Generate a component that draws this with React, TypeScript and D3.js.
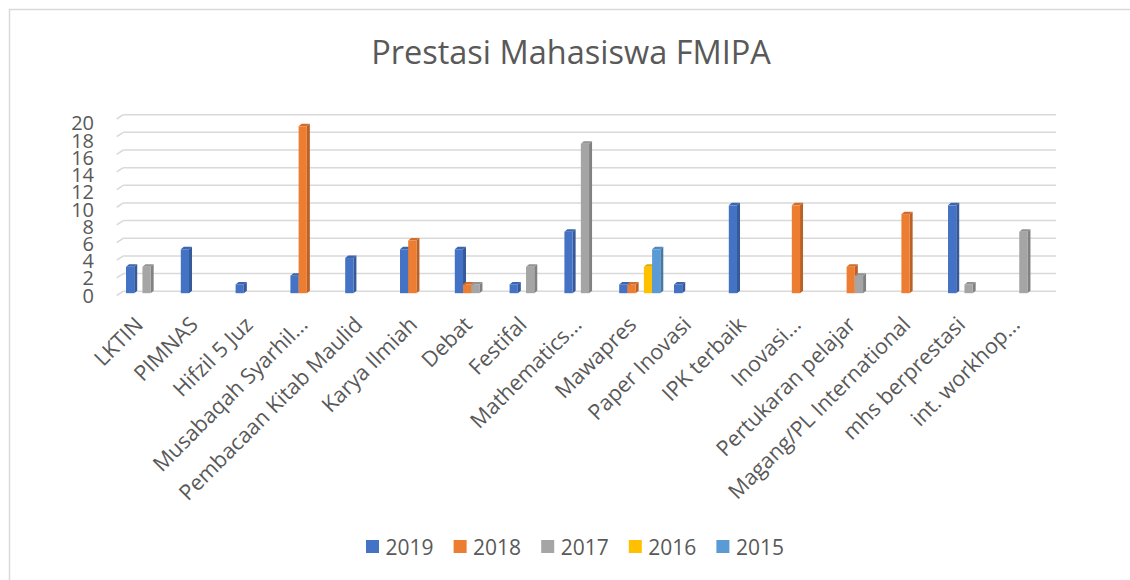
import React from "react";
import * as d3 from "d3";

const categories = [
  "LKTIN",
  "PIMNAS",
  "Hifzil 5 Juz",
  "Musabaqah Syarhil...",
  "Pembacaan Kitab Maulid",
  "Karya Ilmiah",
  "Debat",
  "Festifal",
  "Mathematics...",
  "Mawapres",
  "Paper Inovasi",
  "IPK terbaik",
  "Inovasi...",
  "Pertukaran pelajar",
  "Magang/PL International",
  "mhs berprestasi",
  "int. workhop...",
];
const seriesNames = ["2019", "2018", "2017", "2016", "2015"];
const seriesColors = ["#4472C4", "#ED7D31", "#A5A5A5", "#FFC000", "#5B9BD5"];
const v2019 = [3, 5, 1, 2, 4, 5, 5, 1, 7, 1, 1, 10, 0, 0, 0, 10, 0];
const v2018 = [0, 0, 0, 19, 0, 6, 1, 0, 0, 1, 0, 0, 10, 3, 9, 0, 0];
const v2017 = [3, 0, 0, 0, 0, 0, 1, 3, 17, 0, 0, 0, 0, 2, 0, 1, 7];
const v2016 = [0, 0, 0, 0, 0, 0, 0, 0, 0, 3, 0, 0, 0, 0, 0, 0, 0];
const v2015 = [0, 0, 0, 0, 0, 0, 0, 0, 0, 5, 0, 0, 0, 0, 0, 0, 0];
const seriesValues = [v2019, v2018, v2017, v2016, v2015];
const yTicks = [0, 2, 4, 6, 8, 10, 12, 14, 16, 18, 20];
const title = "Prestasi Mahasiswa FMIPA";

const FONT = "'Open Sans', 'Noto Sans', sans-serif";
const TEXT = "#595959";
const GRID = "#d9d9d9";

export default function App() {
  const x = d3
    .scaleBand<string>()
    .domain(categories)
    .range([119.15, 1050.75])
    .paddingInner(0.25)
    .paddingOuter(0.125);
  const xs = d3
    .scaleBand<string>()
    .domain(seriesNames)
    .range([0, x.bandwidth()])
    .padding(0);
  const yBack = d3.scaleLinear().domain([0, 20]).range([291.2, 114.7]);
  const yFront = d3.scaleLinear().domain([0, 20]).range([293.2, 117.5]);
  const yLabel = d3.scaleLinear().domain([0, 20]).range([295.7, 123.3]);

  const dx = 3;
  const dy = 2.5;
  const w = xs.bandwidth();

  const bars: any[] = [];
  categories.forEach((c, i) => {
    seriesNames.forEach((s, j) => {
      const v = seriesValues[j][i];
      if (!v) return;
      const bx = (x(c) as number) + (xs(s) as number);
      const top = yFront(v);
      const bot = yFront(0);
      const col = d3.color(seriesColors[j]) as any;
      const side = col.darker(0.7).toString();
      const topCol = col.darker(0.35).toString();
      bars.push(
        <g key={`${i}-${j}`}>
          <polygon
            points={`${bx + w},${top} ${bx + w + dx},${top - dy} ${bx + w + dx},${bot - dy} ${bx + w},${bot}`}
            fill={side}
          />
          <polygon
            points={`${bx},${top} ${bx + dx},${top - dy} ${bx + w + dx},${top - dy} ${bx + w},${top}`}
            fill={topCol}
          />
          <rect x={bx} y={top} width={w} height={bot - top} fill={seriesColors[j]} />
        </g>
      );
    });
  });

  return (
    <svg
      width={1130}
      height={580}
      style={{ position: "absolute", left: 0, top: 0, background: "#fff" }}
    >
      <rect x={0} y={0} width={1130} height={580} fill="#fff" />
      <rect x={9.5} y={9.5} width={1300} height={800} fill="none" stroke={GRID} strokeWidth={1.5} />
      <text x={571} y={64} textAnchor="middle" fontFamily={FONT} fontSize={32.5} fill={TEXT}>
        {title}
      </text>
      {yTicks.map((t) => (
        <g key={t}>
          <line x1={116.7} y1={yBack(t) + 4.3} x2={123.3} y2={yBack(t)} stroke={GRID} strokeWidth={1.5} />
          <line x1={123.3} y1={yBack(t)} x2={1056} y2={yBack(t)} stroke={GRID} strokeWidth={1.5} />
          <text
            x={94}
            y={yLabel(t) + 7}
            textAnchor="end"
            fontFamily={FONT}
            fontSize={20}
            fill={TEXT}
          >
            {t}
          </text>
        </g>
      ))}
      {bars}
      {categories.map((c) => {
        const cx = (x(c) as number) + x.bandwidth() / 2;
        return (
          <text
            key={c}
            transform={`translate(${cx - 2},326) rotate(-45)`}
            textAnchor="end"
            fontFamily={FONT}
            fontSize={21.5}
            fill={TEXT}
          >
            {c}
          </text>
        );
      })}
      {seriesNames.map((s, j) => {
        const lx = 366 + j * 87.6;
        return (
          <g key={s}>
            <rect x={lx} y={540} width={13} height={13} fill={seriesColors[j]} />
            <text x={lx + 19.5} y={554.5} fontFamily={FONT} fontSize={21} fill={TEXT}>
              {s}
            </text>
          </g>
        );
      })}
    </svg>
  );
}
